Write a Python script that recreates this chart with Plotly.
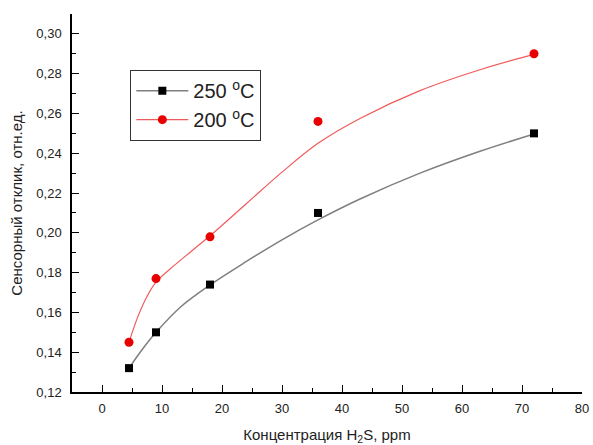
import plotly.graph_objects as go

# measured points
conc = [4.5, 9, 18, 36, 72]
resp_250 = [0.132, 0.150, 0.174, 0.210, 0.250]
resp_200 = [0.145, 0.177, 0.198, 0.256, 0.290]

# fitted curves
fit_x_250 = [4.5, 6, 7.5, 9, 13, 18, 24, 30, 36, 43, 53, 63, 72]
fit_y_250 = [0.1320, 0.1385, 0.1445, 0.1500, 0.1625, 0.1738, 0.1855, 0.1965, 0.2065, 0.2170, 0.2300, 0.2410, 0.2497]
fit_x_200 = [4.5, 6, 7.5, 9, 12, 15, 18, 24, 30, 36, 43, 53, 63, 72]
fit_y_200 = [0.1450, 0.1580, 0.1680, 0.1752, 0.1835, 0.1910, 0.1985, 0.2145, 0.2305, 0.2450, 0.2575, 0.2715, 0.2820, 0.2897]

names = ["250 <sup>o</sup>C", "200 <sup>o</sup>C"]
x_ticks = [0, 10, 20, 30, 40, 50, 60, 70, 80]
y_ticks = [0.12, 0.14, 0.16, 0.18, 0.20, 0.22, 0.24, 0.26, 0.28, 0.30]

GRAY = "#7f7f7f"
RED_LINE = "#f05a5a"
RED_MARK = "#e80000"
FONT = "Liberation Sans, Arial, sans-serif"

fig = go.Figure()
fig.add_trace(go.Scatter(x=fit_x_250, y=fit_y_250, mode="lines", line=dict(color=GRAY, width=1.5, shape="spline"),
                         showlegend=False, hoverinfo="skip"))
fig.add_trace(go.Scatter(x=fit_x_200, y=fit_y_200, mode="lines", line=dict(color=RED_LINE, width=1.2, shape="spline"),
                         showlegend=False, hoverinfo="skip"))
fig.add_trace(go.Scatter(x=conc, y=resp_250, mode="markers", marker=dict(symbol="square", size=8, color="black"),
                         showlegend=False))
fig.add_trace(go.Scatter(x=conc, y=resp_200, mode="markers", marker=dict(symbol="circle", size=9, color=RED_MARK),
                         showlegend=False))
# legend entries
fig.add_trace(go.Scatter(x=[None], y=[None], mode="lines+markers", name=names[0],
                         line=dict(color=GRAY, width=1.5), marker=dict(symbol="square", size=8, color="black")))
fig.add_trace(go.Scatter(x=[None], y=[None], mode="lines+markers", name=names[1],
                         line=dict(color=RED_LINE, width=1.2), marker=dict(symbol="circle", size=9, color=RED_MARK)))

axis_common = dict(showline=True, linecolor="black", linewidth=1.5, mirror=False, showgrid=False, zeroline=False,
                   ticks="inside", ticklen=7, tickwidth=1.2, tickcolor="black", automargin=False,
                   tickfont=dict(family=FONT, size=13, color="#222"))

fig.update_xaxes(range=[-5, 80], tickvals=x_ticks, ticktext=[str(v) for v in x_ticks],
                 minor=dict(ticks="inside", ticklen=4, tickwidth=1.2, tickcolor="black", dtick=5, tick0=0),
                 title=dict(text="Концентрация H<sub>2</sub>S, ppm", font=dict(family=FONT, size=15, color="#222"),
                            standoff=15),
                 ticklabelstandoff=4, **axis_common)
fig.update_yaxes(range=[0.12, 0.31], tickvals=y_ticks, ticktext=[f"{v:.2f}".replace(".", ",") for v in y_ticks],
                 minor=dict(ticks="inside", ticklen=4, tickwidth=1.2, tickcolor="black", dtick=0.01, tick0=0.12),
                 title=dict(text="Сенсорный отклик, отн.ед.", font=dict(family=FONT, size=15, color="#222"),
                            standoff=10),
                 ticklabelstandoff=6, **axis_common)

fig.update_layout(
    width=593, height=445,
    margin=dict(l=72, r=11, t=14, b=53),
    paper_bgcolor="white", plot_bgcolor="white",
    font=dict(family=FONT, color="#222"),
    legend=dict(x=0.114, y=0.852, xanchor="left", yanchor="top",
                bordercolor="#333", borderwidth=1.2, bgcolor="white",
                font=dict(family=FONT, size=20, color="#222"),
                itemwidth=52, tracegroupgap=0),
)

fig.write_html("out.html")
